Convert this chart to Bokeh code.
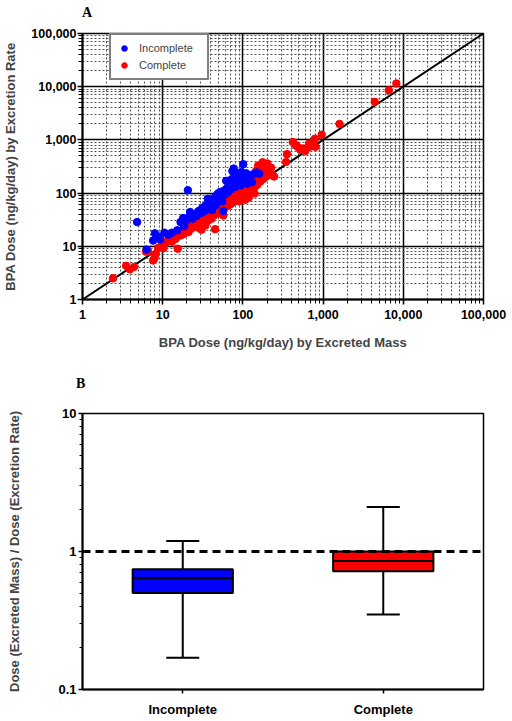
from bokeh.plotting import figure
from bokeh.layouts import column
from bokeh.models import (FixedTicker, Legend, LegendItem, Span, FactorRange, Div,
                          ColumnDataSource, Range1d, NumeralTickFormatter)
from bokeh.transform import dodge
from bokeh.embed import file_html
from bokeh.resources import INLINE

# ---------------- data: panel A ----------------
complete_x = [2.4, 3.5, 3.9, 4.4, 6.2, 6.6, 7.6, 7.9, 8.2, 8.8, 9.6, 10.2, 10.8, 11.5, 12.2, 13.0,
              13.8, 14.5, 15.4, 16.0, 16.8, 17.5, 18.3, 19.0, 19.8, 20.5, 21.0, 22.0, 22.5, 23.5,
              24.5, 25.0, 26.0, 27.0, 27.5, 28.5, 29.0, 30.0, 30.5, 31.5, 32.0, 33.0, 34.0, 35.0,
              36.0, 36.5, 37.5, 38.5, 39.5, 40.5, 41.5, 42.5, 44.0, 45.0, 45.5, 46.5, 48.0, 49.0,
              50.0, 51.5, 53.0, 54.0, 55.5, 57.0, 58.0, 59.0, 61.0, 62.5, 64.0, 65.5, 67.0, 68.5,
              70.0, 71.5, 73.0, 74.5, 75.5, 77.0, 78.5, 80.0, 81.0, 83.0, 84.5, 86.0, 88.0, 89.5,
              91.0, 93.0, 95.0, 97.0, 99.0, 101.0, 103.0, 105.0, 107.0, 109.0, 111.0, 113.0, 116.0,
              118.0, 120.0, 123.0, 125.0, 128.0, 131.0, 134.0, 137.0, 140.0, 143.0, 146.0, 149.0,
              152.0, 155.0, 158.0, 162.0, 165.0, 168.0, 172.0, 176.0, 180.0, 185.0, 190.0, 196.0,
              202.0, 208.0, 215.0, 225.0, 235.0, 245.0,
              345, 355, 420, 450, 480, 520, 560, 600, 640, 670, 700, 760, 790, 800, 960, 1600,
              4400, 6600, 8200]
complete_y = [2.5, 4.3, 3.7, 4.1, 8.0, 7.8, 5.4, 6.0, 7.2, 9.3, 10.2, 9.2, 11.5, 12.8, 14.0, 12.2,
              15.5, 13.8, 9.0, 17.5, 16.0, 20.0, 17.0, 22.5, 19.5, 24.0, 18.5, 27.0, 21.5, 25.5,
              30.0, 23.0, 28.0, 33.0, 25.5, 22.0, 30.5, 36.0, 20.5, 27.5, 40.0, 32.0, 24.5, 38.0,
              44.0, 30.0, 35.5, 48.0, 41.0, 33.0, 52.0, 44.0, 38.5, 21.0, 57.0, 47.0, 41.0, 62.0,
              52.0, 45.0, 68.0, 57.0, 49.0, 38.0, 72.0, 61.0, 55.0, 80.0, 66.0, 58.0, 88.0, 71.0,
              62.0, 98.0, 77.0, 190.0, 67.0, 110.0, 84.0, 150.0, 74.0, 95.0, 125.0, 81.0, 104.0, 70.0,
              135.0, 90.0, 115.0, 80.0, 100.0, 160.0, 88.0, 125.0, 75.0, 108.0, 145.0, 95.0, 130.0,
              82.0, 115.0, 175.0, 100.0, 140.0, 120.0, 200.0, 155.0, 98.0, 135.0, 260.0, 170.0,
              145.0, 330.0, 190.0, 230.0, 165.0, 290.0, 210.0, 380.0, 185.0, 250.0, 330.0, 205.0,
              360.0, 270.0, 235.0, 300.0, 215.0, 205.0,
              385, 540, 910, 800, 740, 650, 690, 620, 720, 850, 760, 900, 1050, 740, 1250, 2000,
              5200, 8600, 11500]

incomplete_x = [4.8, 6.3, 7.6, 8.0, 8.6, 9.3, 10.5, 11.8, 13.0, 15.2, 16.7, 18.0, 18.5, 19.5, 20.6,
                21.5, 22.0, 23.5, 25.0, 26.5, 28.0, 29.5, 31.0, 32.5, 34.0, 35.5, 36.5, 38.0, 39.0,
                40.0, 41.5, 43.0, 44.5, 46.0, 47.5, 49.0, 50.5, 52.0, 54.0, 55.5, 57.0, 58.5, 60.0,
                62.0, 63.5, 65.0, 67.0, 69.0, 70.5, 72.0, 74.0, 75.5, 77.0, 78.5, 80.0, 82.0, 84.0,
                86.0, 88.0, 90.0, 92.0, 94.0, 96.0, 98.0, 101.0, 103.0, 105.0, 108.0, 110.0, 113.0,
                116.0, 120.0, 125.0, 130.0, 138.0, 148.0, 160.0]
incomplete_y = [28.5, 8.7, 12.8, 17.5, 15.5, 13.5, 18.0, 16.5, 18.0, 20.0, 28.5, 34.0, 24.0, 30.0, 113.0,
                36.0, 44.0, 33.0, 40.0, 37.0, 46.0, 42.0, 52.0, 45.0, 58.0, 50.0, 78.0, 64.0, 55.0,
                73.0, 48.0, 68.0, 82.0, 60.0, 92.0, 98.0, 75.0, 105.0, 88.0, 70.0, 46.0, 112.0, 95.0,
                170.0, 125.0, 105.0, 150.0, 174.0, 118.0, 138.0, 260.0, 160.0, 289.0, 195.0, 130.0, 220.0, 170.0,
                231.0, 150.0, 205.0, 185.0, 140.0, 250.0, 175.0, 349.0, 210.0, 160.0, 190.0, 235.0, 150.0,
                200.0, 175.0, 215.0, 160.0, 230.0, 245.0, 231.0]

major_ticks_a = [1, 10, 100, 1000, 10000, 100000]

# ---------------- data: panel B ----------------
groups = ["Incomplete", "Complete"]
whisker_low = [0.17, 0.35]
q1 = [0.50, 0.72]
median = [0.64, 0.855]
q3 = [0.745, 1.0]
whisker_high = [1.19, 2.1]
box_colors = ["#0000ff", "#ff0000"]
major_ticks_b = [0.1, 1, 10]

FONT = "Liberation Sans"
minor_a = [m * d for d in [1, 10, 100, 1000, 10000] for m in range(2, 10)]
minor_b = [m * d for d in [0.1, 1] for m in range(2, 10)]


def panel_letter(letter, pad_top, pad_left, height):
    html = ('<div style="margin:0; padding:%dpx 0 0 %dpx; font-family:\'Liberation Serif\'; '
            'font-weight:bold; font-size:14px; line-height:16px; color:black;">%s</div>'
            % (pad_top, pad_left, letter))
    return Div(text=html, width=512, height=height, margin=0)


# ---------------- panel A ----------------
divA = panel_letter("A", 5, 82, 20)
p1 = figure(width=512, height=332, x_axis_type="log", y_axis_type="log",
            x_range=Range1d(1, 100000), y_range=Range1d(1, 100000),
            output_backend="svg", toolbar_location=None,
            min_border_left=82, min_border_right=29, min_border_top=13, min_border_bottom=53)

tick_a = FixedTicker(ticks=major_ticks_a, minor_ticks=minor_a)
for ax in (p1.xaxis[0], p1.yaxis[0]):
    ax.ticker = tick_a
    ax.formatter = NumeralTickFormatter(format="0,0")
    ax.major_label_text_font = FONT
    ax.major_label_text_font_style = "bold"
    ax.major_label_text_font_size = "12.5px"
    ax.major_label_text_color = "black"
    ax.axis_label_text_font = FONT
    ax.axis_label_text_font_style = "bold"
    ax.axis_label_text_font_size = "13px"
    ax.axis_line_width = 2
    ax.axis_line_color = "black"
    ax.major_tick_line_width = 1.5
    ax.major_tick_line_color = "black"
    ax.minor_tick_line_color = "black"
    ax.major_tick_out = 5
    ax.major_tick_in = 0
    ax.minor_tick_out = 4
    ax.minor_tick_in = 0
p1.xaxis[0].axis_label = "BPA Dose (ng/kg/day) by Excreted Mass"
p1.yaxis[0].axis_label = "BPA Dose (ng/kg/day) by Excretion Rate"
p1.xaxis[0].major_label_standoff = 5
p1.xaxis[0].axis_label_standoff = 13
p1.yaxis[0].major_label_standoff = 1
p1.yaxis[0].axis_label_standoff = 10

for g in (p1.xgrid[0], p1.ygrid[0]):
    g.ticker = tick_a
    g.grid_line_color = "black"
    g.grid_line_width = 1.5
    g.minor_grid_line_color = "#555555"
    g.minor_grid_line_dash = "2 2"
    g.minor_grid_line_width = 1
p1.outline_line_color = "black"
p1.outline_line_width = 1.5

p1.line(x=[major_ticks_a[0], major_ticks_a[-1]], y=[major_ticks_a[0], major_ticks_a[-1]],
        line_color="black", line_width=2)
r_c = p1.scatter(complete_x, complete_y, size=7.5, fill_color="#ff0000", line_color="#ff0000")
r_i = p1.scatter(incomplete_x, incomplete_y, size=7.5, fill_color="#0000ff", line_color="#0000ff")

legend = Legend(items=[LegendItem(label="Incomplete", renderers=[r_i]),
                       LegendItem(label="Complete", renderers=[r_c])],
                location=(27, 219))
legend.label_text_font = FONT
legend.label_text_font_size = "11px"
legend.border_line_color = "black"
legend.border_line_width = 2
legend.background_fill_alpha = 1
legend.glyph_width = 14
legend.glyph_height = 14
legend.label_standoff = 8
legend.label_width = 62
legend.padding = 6
legend.spacing = 3
legend.margin = 0
p1.add_layout(legend)

# ---------------- panel B ----------------
divB = panel_letter("B", 24, 76, 40)
src = ColumnDataSource(dict(g=groups, lo=whisker_low, q1=q1, med=median, q3=q3,
                            hi=whisker_high, color=box_colors))
p2 = figure(width=512, height=329, x_range=FactorRange(*groups), y_axis_type="log",
            y_range=Range1d(0.1, 10), output_backend="svg", toolbar_location=None,
            min_border_left=69, min_border_right=29, min_border_top=21, min_border_bottom=32)
p2.grid.visible = False
p2.outline_line_color = "black"
p2.outline_line_width = 1.5

tick_b = FixedTicker(ticks=major_ticks_b, minor_ticks=minor_b)
ya = p2.yaxis[0]
ya.ticker = tick_b
ya.formatter = NumeralTickFormatter(format="0.[0]")
ya.axis_label = "Dose (Excreted Mass) / Dose (Excretion Rate)"
ya.major_label_standoff = 2
ya.axis_label_standoff = 33
ya.major_tick_out = 4
ya.major_tick_in = 0
ya.minor_tick_out = 3
ya.minor_tick_in = 0
xa = p2.xaxis[0]
xa.major_label_standoff = 8
xa.major_tick_out = 4
xa.major_tick_in = 0
for ax in (xa, ya):
    ax.major_label_text_font = FONT
    ax.major_label_text_font_style = "bold"
    ax.major_label_text_font_size = "13px"
    ax.major_label_text_color = "black"
    ax.axis_label_text_font = FONT
    ax.axis_label_text_font_style = "bold"
    ax.axis_label_text_font_size = "13px"
    ax.axis_line_width = 2
    ax.axis_line_color = "black"
    ax.major_tick_line_width = 1.5
    ax.major_tick_line_color = "black"
    ax.minor_tick_line_color = "black"

p2.segment(x0="g", x1="g", y0="lo", y1="hi", source=src, line_color="black", line_width=2)
p2.segment(x0=dodge("g", -0.0825, range=p2.x_range), x1=dodge("g", 0.0825, range=p2.x_range),
           y0="hi", y1="hi", source=src, line_color="black", line_width=2)
p2.segment(x0=dodge("g", -0.0825, range=p2.x_range), x1=dodge("g", 0.0825, range=p2.x_range),
           y0="lo", y1="lo", source=src, line_color="black", line_width=2)
p2.vbar(x="g", bottom="q1", top="q3", width=0.5, source=src, fill_color="color",
        line_color="black", line_width=2)
p2.segment(x0=dodge("g", -0.25, range=p2.x_range), x1=dodge("g", 0.25, range=p2.x_range),
           y0="med", y1="med", source=src, line_color="black", line_width=2)
p2.add_layout(Span(location=1, dimension="width", line_color="black", line_width=3,
                   line_dash="8 5"))

layout = column(divA, p1, divB, p2, spacing=0)
open("out.html", "w").write(file_html(layout, INLINE))
